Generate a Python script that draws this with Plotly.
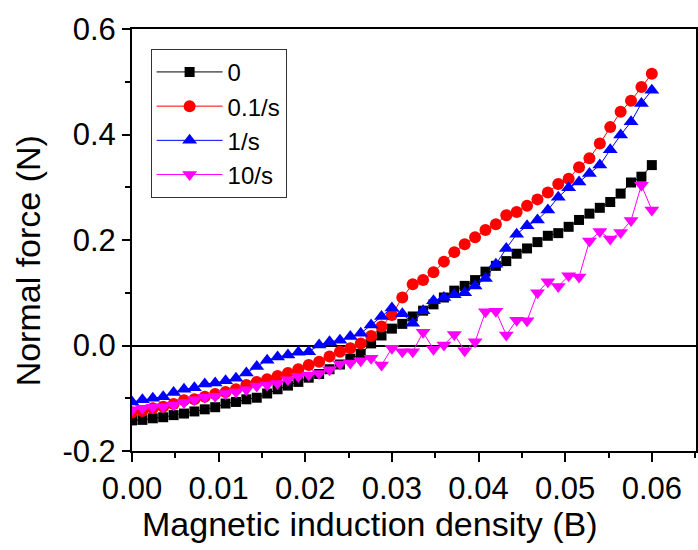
import plotly.graph_objects as go

B = [0.0, 0.0012, 0.0024, 0.0036, 0.0048, 0.006, 0.0072, 0.0084, 0.0096, 0.0108,
     0.012, 0.0132, 0.0144, 0.0156, 0.0168, 0.018, 0.0192, 0.0204, 0.0216, 0.0228,
     0.024, 0.0252, 0.0264, 0.0276, 0.0288, 0.03, 0.0312, 0.0324, 0.0336, 0.0348,
     0.036, 0.0372, 0.0384, 0.0396, 0.0408, 0.042, 0.0432, 0.0444, 0.0456, 0.0468,
     0.048, 0.0492, 0.0504, 0.0516, 0.0528, 0.054, 0.0552, 0.0564, 0.0576, 0.0588,
     0.06]

f_0 = [-0.142, -0.141, -0.138, -0.136, -0.132, -0.129, -0.125, -0.121, -0.117, -0.110,
       -0.107, -0.102, -0.099, -0.091, -0.083, -0.076, -0.069, -0.061, -0.054, -0.045,
       -0.036, -0.025, -0.016, 0.004, 0.019, 0.032, 0.041, 0.055, 0.066, 0.078,
       0.091, 0.104, 0.113, 0.124, 0.140, 0.151, 0.160, 0.174, 0.184, 0.196,
       0.208, 0.213, 0.225, 0.238, 0.250, 0.261, 0.272, 0.288, 0.309, 0.320,
       0.342]

f_01 = [-0.127, -0.124, -0.119, -0.116, -0.111, -0.104, -0.102, -0.097, -0.092, -0.088,
        -0.083, -0.075, -0.069, -0.064, -0.058, -0.052, -0.045, -0.037, -0.031, -0.021,
        -0.012, -0.005, 0.004, 0.018, 0.036, 0.058, 0.091, 0.116, 0.124, 0.139,
        0.159, 0.177, 0.192, 0.205, 0.219, 0.230, 0.247, 0.253, 0.265, 0.277,
        0.290, 0.306, 0.316, 0.338, 0.355, 0.383, 0.414, 0.443, 0.464, 0.490,
        0.515]

f_1 = [-0.107, -0.103, -0.100, -0.097, -0.089, -0.083, -0.080, -0.073, -0.071, -0.067,
       -0.062, -0.052, -0.040, -0.028, -0.022, -0.018, -0.013, -0.012, 0.001, 0.007,
       0.010, 0.017, 0.023, 0.039, 0.055, 0.071, 0.060, 0.042, 0.066, 0.085,
       0.091, 0.096, 0.100, 0.113, 0.127, 0.154, 0.184, 0.211, 0.227, 0.238,
       0.257, 0.281, 0.299, 0.310, 0.326, 0.342, 0.371, 0.399, 0.424, 0.459,
       0.484]

f_10 = [-0.122, -0.119, -0.117, -0.116, -0.113, -0.108, -0.103, -0.098, -0.096, -0.091,
        -0.088, -0.084, -0.077, -0.075, -0.072, -0.065, -0.059, -0.056, -0.053, -0.046,
        -0.035, -0.033, -0.029, -0.024, -0.037, -0.005, -0.012, -0.012, 0.025, -0.007,
        0.001, 0.021, -0.010, 0.007, 0.064, 0.065, 0.020, 0.048, 0.047, 0.100,
        0.121, 0.112, 0.132, 0.130, 0.198, 0.216, 0.202, 0.214, 0.237, 0.304,
        0.257]

x_tick_vals = [0.0, 0.01, 0.02, 0.03, 0.04, 0.05, 0.06]
x_tick_text = ["0.00", "0.01", "0.02", "0.03", "0.04", "0.05", "0.06"]
y_tick_vals = [-0.2, 0.0, 0.2, 0.4, 0.6]
y_tick_text = ["-0.2", "0.0", "0.2", "0.4", "0.6"]

series = [
    ("0", f_0, "#000000", "square", 10),
    ("0.1/s", f_01, "#FF0000", "circle", 12),
    ("1/s", f_1, "#0000FF", "triangle-up", 13),
    ("10/s", f_10, "#FF00FF", "triangle-down", 13),
]

FONT = "Liberation Sans, Arial, sans-serif"

fig = go.Figure()
for name, ys, col, sym, sz in series:
    fig.add_trace(go.Scatter(
        x=B, y=ys, name=name, mode="lines+markers",
        line=dict(color=col, width=1),
        marker=dict(symbol=sym, size=sz, color=col, line=dict(width=0)),
    ))

fig.update_layout(
    width=698, height=550,
    margin=dict(l=132, r=0, t=29, b=99),
    paper_bgcolor="white", plot_bgcolor="white",
    font=dict(family=FONT, color="black"),
    showlegend=True,
    legend=dict(
        x=0.033, y=0.953, xanchor="left", yanchor="top",
        bgcolor="white", bordercolor="#333333", borderwidth=1,
        font=dict(size=24, family=FONT, color="black"),
        tracegroupgap=0, itemwidth=66,
    ),
    xaxis=dict(
        range=[0, 0.0651], tickmode="array", tickvals=x_tick_vals, ticktext=x_tick_text,
        ticks="outside", ticklen=9, tickwidth=1.5, tickcolor="black",
        minor=dict(ticks="outside", ticklen=5, dtick=0.005, tick0=0, tickcolor="black", tickwidth=1.5),
        showline=True, linecolor="black", linewidth=2, mirror=True,
        showgrid=False, zeroline=False,
        tickfont=dict(size=31, family=FONT),
    ),
    yaxis=dict(
        range=[-0.2, 0.6], tickmode="array", tickvals=y_tick_vals, ticktext=y_tick_text,
        ticks="outside", ticklen=8, tickwidth=1.5, tickcolor="black",
        minor=dict(ticks="outside", ticklen=5, dtick=0.1, tick0=-0.2, tickcolor="black", tickwidth=1.5),
        showline=True, linecolor="black", linewidth=2, mirror=True,
        showgrid=False, zeroline=True, zerolinecolor="black", zerolinewidth=1.5,
        tickfont=dict(size=31, family=FONT),
    ),
    annotations=[
        dict(text="Magnetic induction density (B)", xref="paper", yref="paper",
             x=0.4205, y=(451 - 524) / 422, xanchor="center", yanchor="middle",
             showarrow=False, font=dict(size=34, family=FONT, color="black")),
        dict(text="Normal force (N)", xref="paper", yref="paper",
             x=(28 - 132) / 566, y=(451 - 261) / 422, xanchor="center", yanchor="middle",
             textangle=-90, showarrow=False, font=dict(size=34, family=FONT, color="black")),
    ],
)

fig.write_html("out.html")
